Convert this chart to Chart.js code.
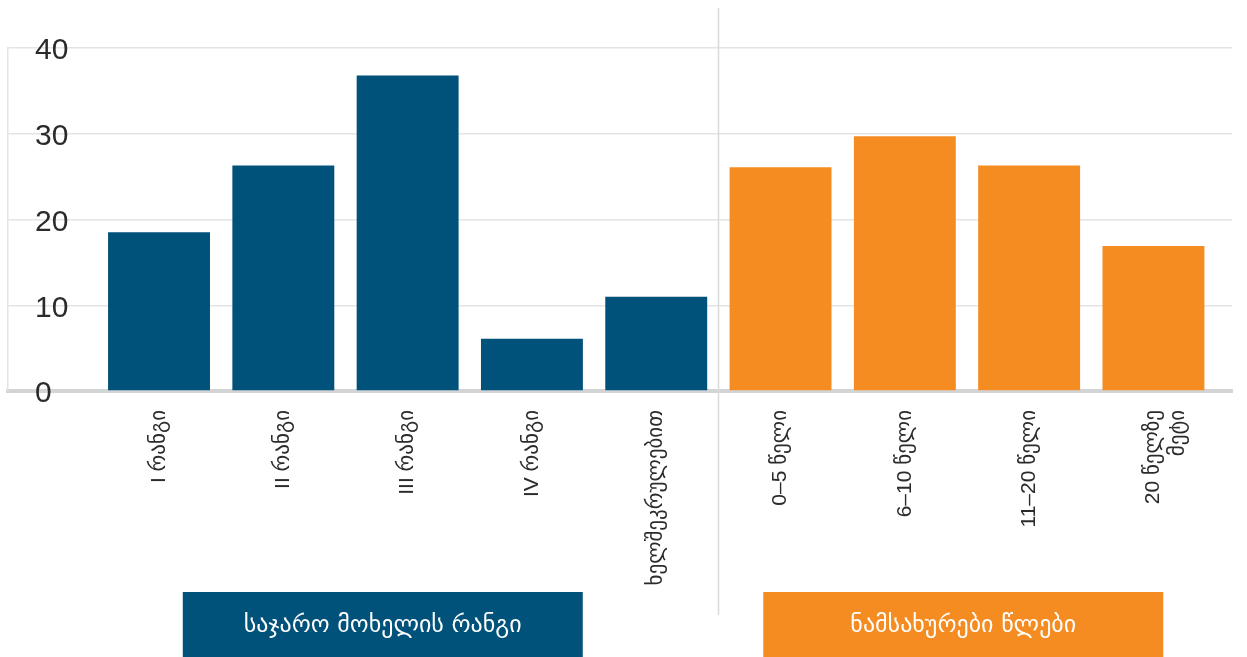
<!DOCTYPE html>
<html lang="ka">
<head>
<meta charset="utf-8">
<title>საჯარო მოხელეები</title>
<script src="https://cdn.jsdelivr.net/npm/chart.js@4"></script>
<style>
    html, body { margin: 0; padding: 0; background: #fff; }
    #wrap { width: 1247px; height: 657px; position: relative; }
</style>
</head>
<body>
<div id="wrap"><canvas id="staffChart"></canvas></div>
<script>
// Categories and values
const rankLabels = ['I რანგი', 'II რანგი', 'III რანგი', 'IV რანგი', 'ხელშეკრულებით'];
const yearLabels = ['0–5 წელი', '6–10 წელი', '11–20 წელი', ['20 წელზე', 'მეტი']];
const rankValues = [18.5, 26.3, 36.8, 6.1, 11.0];
const yearValues = [26.1, 29.7, 26.3, 16.9];
const groupTitles = ['საჯარო მოხელის რანგი', 'ნამსახურები წლები'];
const yTicks = [0, 10, 20, 30, 40];

const allLabels = [...rankLabels, ...yearLabels];
const BLUE = '#01527a';
const ORANGE = '#f58c21';
const FONT = "'Liberation Sans', 'DejaVu Sans', sans-serif";

// Vertical separator between the two groups + title boxes under them
const groupsPlugin = {
    id: 'groups',
    afterDraw(chart) {
        const { ctx } = chart;
        const x = chart.scales.x;
        const h = chart.height;

        ctx.save();
        const sepX = Math.round(x.getPixelForValue(rankValues.length - 0.5)) + 0.5;
        ctx.strokeStyle = '#dadada';
        ctx.lineWidth = 1.5;
        ctx.beginPath();
        ctx.moveTo(sepX, 8);
        ctx.lineTo(sepX, 615);
        ctx.stroke();

        const boxes = [
            { center: x.getPixelForValue(1.8), color: BLUE, text: groupTitles[0] },
            { center: x.getPixelForValue(6.47), color: ORANGE, text: groupTitles[1] }
        ];
        boxes.forEach(b => {
            ctx.fillStyle = b.color;
            ctx.fillRect(b.center - 200, 592, 400, h - 592);
            ctx.fillStyle = '#fff';
            ctx.font = "24px 'DejaVu Sans', sans-serif";
            ctx.textAlign = 'center';
            ctx.textBaseline = 'middle';
            ctx.fillText(b.text, b.center, 626);
        });
        ctx.restore();
    }
};

const ctx = document.getElementById('staffChart').getContext('2d');
new Chart(ctx, {
    type: 'bar',
    data: {
        datasets: [{
            data: rankValues.map((v, i) => ({ x: i, y: v })),
            backgroundColor: BLUE
        }, {
            data: yearValues.map((v, i) => ({ x: rankValues.length + i, y: v })),
            backgroundColor: ORANGE
        }]
    },
    options: {
        responsive: true,
        maintainAspectRatio: false,
        animation: false,
        grouped: false,
        barPercentage: 0.82,
        categoryPercentage: 1,
        layout: { padding: { left: 8, top: 48, right: 15, bottom: 0 } },
        plugins: {
            legend: { display: false },
            tooltip: { enabled: false }
        },
        scales: {
            x: {
                type: 'linear',
                offset: false,
                min: -1.215,
                max: 8.632,
                afterBuildTicks: scale => {
                    scale.ticks = allLabels.map((_, i) => ({ value: i }));
                },
                afterFit: scale => {
                    // labels sit well inside the range, no edge padding needed
                    scale.height = 266;
                    scale.paddingLeft = 0;
                    scale.paddingRight = 0;
                },
                grid: { display: false, drawTicks: false, offset: false },
                border: { display: true, color: '#d3d4d6', width: 4 },
                ticks: {
                    autoSkip: false,
                    minRotation: 90,
                    maxRotation: 90,
                    padding: 19,
                    color: '#2b2b2b',
                    font: { family: FONT, size: 21 },
                    callback: value => allLabels[value]
                }
            },
            y: {
                min: 0,
                max: 40,
                afterBuildTicks: scale => {
                    scale.ticks = yTicks.map(v => ({ value: v }));
                },
                afterFit: scale => { scale.width = 0; },
                grid: { color: '#e4e4e4', lineWidth: 1.5, drawTicks: false },
                border: { display: true, color: '#e4e4e4', width: 1.5 },
                ticks: {
                    mirror: true,
                    padding: 27,
                    labelOffset: 3,
                    color: '#2b2b2b',
                    font: { family: FONT, size: 30 }
                }
            }
        }
    },
    plugins: [groupsPlugin]
});
</script>
</body>
</html>
